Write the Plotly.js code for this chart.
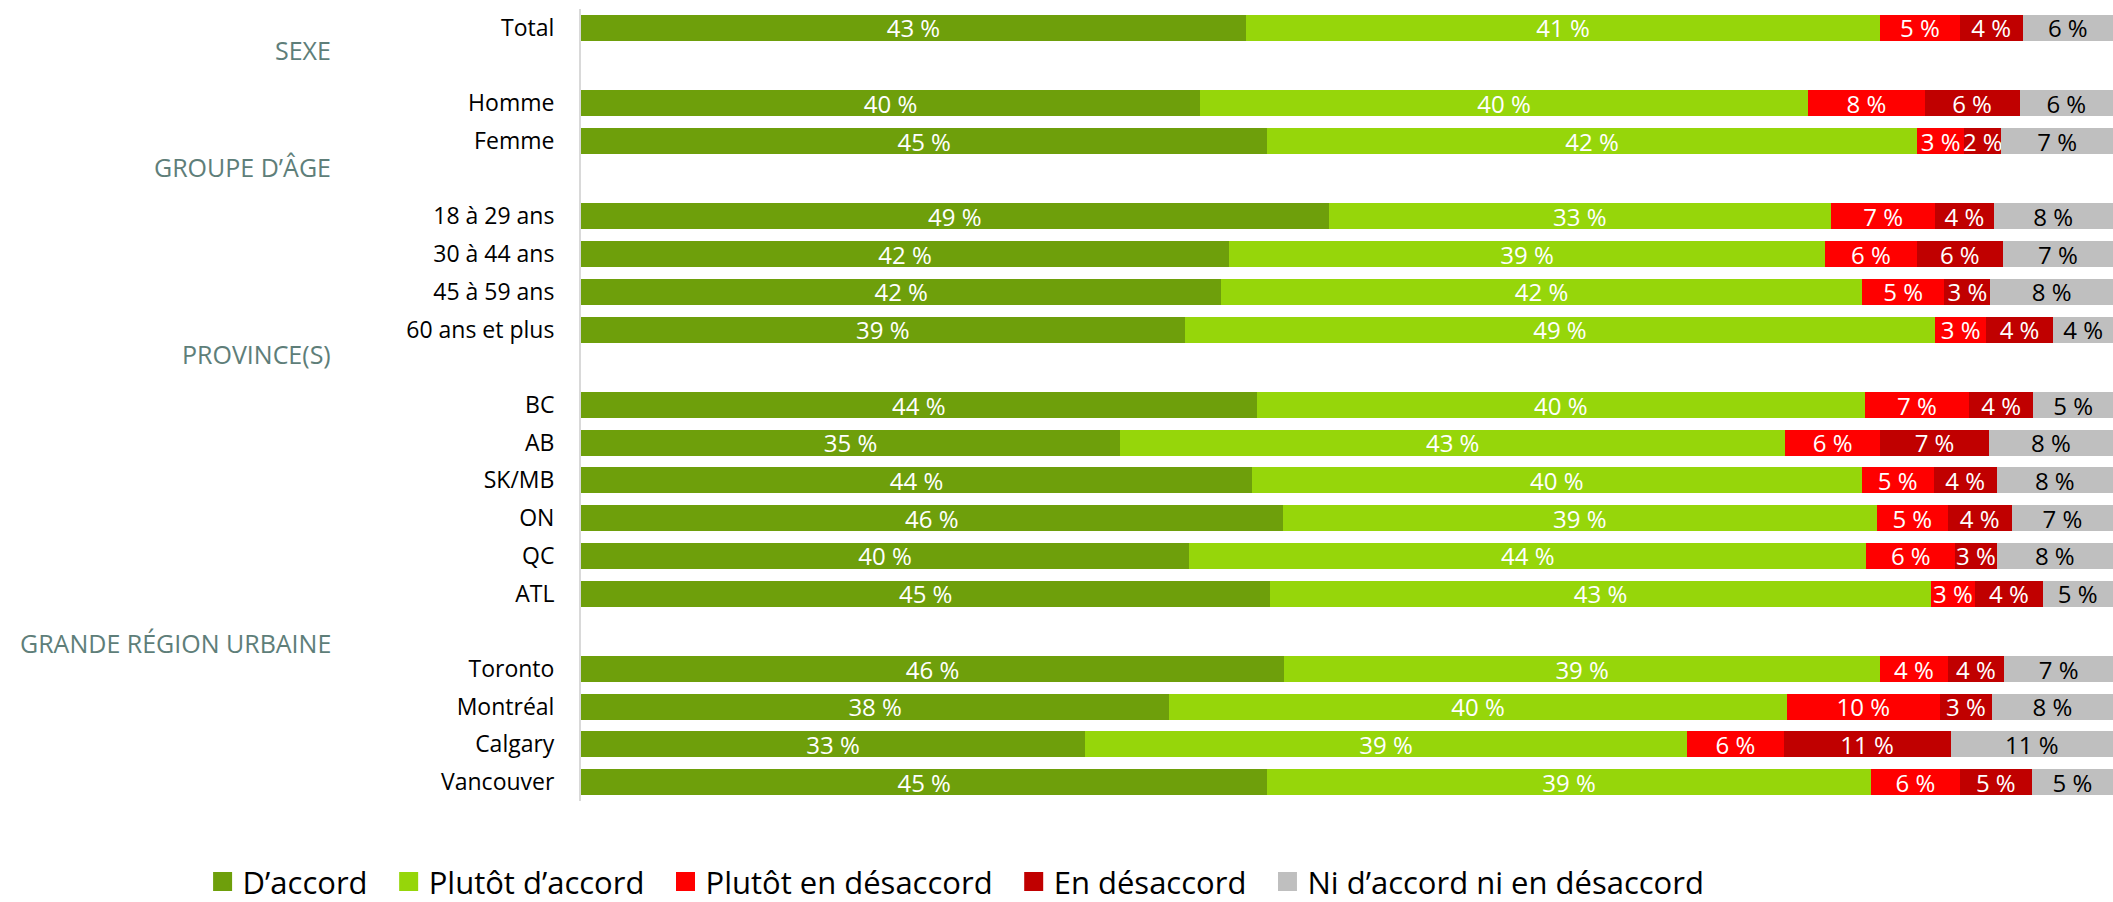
<!DOCTYPE html>
<html>
<head>
<meta charset="utf-8">
<script src="https://cdn.plot.ly/plotly-3.0.1.min.js"></script>
<style>
  html, body { margin: 0; padding: 0; background: #fff; }
  #chart { width: 2113px; height: 902px; }
</style>
</head>
<body>
<div id="chart"></div>
<script>
"use strict";

// lignes du graphique (les chaînes d'espaces servent de lignes vides entre les groupes)
var categories = ['Total', ' ', 'Homme', 'Femme', '  ', '18 à 29 ans', '30 à 44 ans', '45 à 59 ans',
  '60 ans et plus', '   ', 'BC', 'AB', 'SK/MB', 'ON', 'QC', 'ATL', '    ',
  'Toronto', 'Montréal', 'Calgary', 'Vancouver'];

var seriesNames = ['D’accord', 'Plutôt d’accord', 'Plutôt en désaccord', 'En désaccord', 'Ni d’accord ni en désaccord'];

var dAccord = [43.4, null, 40.4, 44.8, null, 48.8, 42.3, 41.8, 39.4, null, 44.1, 35.2, 43.8, 45.8, 39.7, 45.0, null, 45.9, 38.4, 32.9, 44.8];
var plutotAccord = [41.4, null, 39.7, 42.4, null, 32.8, 38.9, 41.8, 49.0, null, 39.7, 43.4, 39.8, 38.8, 44.2, 43.1, null, 38.9, 40.3, 39.3, 39.4];
var plutotDesaccord = [5.2, null, 7.6, 3.1, null, 6.8, 6.0, 5.4, 3.3, null, 6.8, 6.2, 4.7, 4.6, 5.8, 2.9, null, 4.4, 10.0, 6.3, 5.8];
var enDesaccord = [4.1, null, 6.2, 2.4, null, 3.8, 5.6, 3.0, 4.4, null, 4.2, 7.1, 4.1, 4.2, 2.7, 4.4, null, 3.7, 3.4, 10.9, 4.7];
var niNi = [5.9, null, 6.1, 7.3, null, 7.8, 7.2, 8.0, 3.9, null, 5.2, 8.1, 7.6, 6.6, 7.6, 4.6, null, 7.1, 7.9, 10.6, 5.3];

// titres de groupe à gauche
var groupLabels = ['SEXE', 'GROUPE D’ÂGE', 'PROVINCE(S)', 'GRANDE RÉGION URBAINE'];

var colors = ['#6E9F0B', '#96D60A', '#FF0000', '#C00000', '#BFBFBF'];
var textColors = ['#FFFFFF', '#FFFFFF', '#FFFFFF', '#FFFFFF', '#000000'];
var values = [dAccord, plutotAccord, plutotDesaccord, enDesaccord, niNi];

var data = [];

values.forEach(function (serie, i) {
  data.push({
    type: 'bar',
    orientation: 'h',
    name: seriesNames[i],
    x: serie,
    y: categories,
    marker: { color: colors[i], line: { width: 0 } },
    texttemplate: '%{x:.0f} %',
    textposition: 'inside',
    insidetextanchor: 'middle',
    textangle: 0,
    constraintext: 'none',
    textfont: { family: 'Open Sans, sans-serif', size: 24, color: textColors[i] },
    showlegend: false,
    hoverinfo: 'skip'
  });
});

// traces vides pour avoir des carrés plus grands dans la légende
// (espaces insécables en fin de nom pour écarter les éléments comme dans l'original)
seriesNames.forEach(function (nom, i) {
  data.push({
    type: 'scatter',
    mode: 'markers',
    name: i < seriesNames.length - 1 ? nom + '\u00a0\u00a0' : nom,
    x: [null],
    y: [null],
    marker: { symbol: 'square', size: 16, color: colors[i], line: { width: 3, color: colors[i] } },
    hoverinfo: 'skip'
  });
});

var groupPos = [0.6, 3.7, 8.65, 16.3];
var annotations = groupLabels.map(function (txt, i) {
  return {
    text: txt,
    xref: 'paper', yref: 'y',
    x: -0.162, y: groupPos[i],
    xanchor: 'right', yanchor: 'middle',
    showarrow: false,
    font: { family: 'Open Sans, sans-serif', size: 25, color: '#5E7E79' }
  };
});

var layout = {
  width: 2113,
  height: 902,
  margin: { l: 581, r: 0, t: 9, b: 101, autoexpand: false },
  paper_bgcolor: '#FFFFFF',
  plot_bgcolor: '#FFFFFF',
  barmode: 'stack',
  bargap: 0.31,
  showlegend: true,
  legend: {
    orientation: 'h',
    x: -0.247, xanchor: 'left',
    y: -0.102, yanchor: 'middle',
    traceorder: 'normal',
    font: { family: 'Open Sans, sans-serif', size: 31, color: '#000000' },
    bgcolor: 'rgba(0,0,0,0)'
  },
  xaxis: {
    range: [0, 100],
    showgrid: false,
    zeroline: false,
    showticklabels: false,
    showline: false,
    fixedrange: true
  },
  yaxis: {
    type: 'category',
    autorange: 'reversed',
    showgrid: false,
    zeroline: false,
    showline: true,
    linecolor: '#D9D9D9',
    linewidth: 2,
    ticks: '',
    ticklabelstandoff: 20,
    tickfont: { family: 'Open Sans, sans-serif', size: 23, color: '#000000' },
    fixedrange: true
  },
  annotations: annotations
};

Plotly.newPlot('chart', data, layout, { displayModeBar: false, staticPlot: true });
</script>
</body>
</html>
